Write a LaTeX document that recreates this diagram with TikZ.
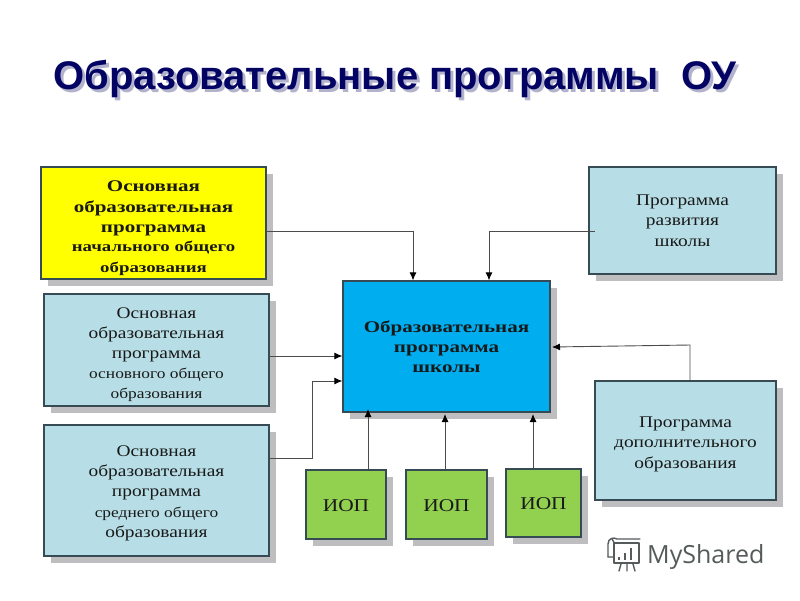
\documentclass[tikz,border=0pt]{standalone}
\usepackage{fontspec}
\setmainfont{Liberation Serif}[FakeStretch=1.19,BoldFeatures={FakeStretch=1.29}]
\newfontfamily\titlefont{Liberation Sans}
\newfontfamily\markfont{Open Sans}
\usetikzlibrary{shadows,arrows.meta}
\definecolor{navytitle}{RGB}{3,3,100}
\definecolor{titleshade}{RGB}{178,178,205}
\definecolor{boxline}{RGB}{55,75,85}
\definecolor{paleblue}{RGB}{183,222,230}
\definecolor{midblue}{RGB}{0,174,239}
\definecolor{leaf}{RGB}{146,208,80}
\definecolor{purey}{RGB}{255,255,0}
\definecolor{shadowgrey}{RGB}{190,190,193}
\definecolor{marktone}{RGB}{85,90,90}
\definecolor{textdark}{RGB}{25,25,25}
\newcommand{\bigsz}{\fontsize{16.3}{20.3}\selectfont}
\newcommand{\smallsz}{\fontsize{14.6}{17.8}\selectfont}
\newcommand{\topgap}[1]{\rule{0pt}{#1pt}}
\tikzset{
  boxnode/.style={draw=boxline,line width=1.3pt,inner sep=0pt,align=center,text=textdark,
    drop shadow={shadow xshift=6.5pt,shadow yshift=-6.5pt,fill=shadowgrey,opacity=1}},
  conn/.style={draw=black!70,line width=.9pt,-{Latex[length=8pt,width=7pt,color=black]}},
  logo/.style={draw=marktone,line width=1.4pt,line cap=round,line join=round},
  ioptext/.style={font=\fontsize{18}{22}\selectfont},
  titletext/.style={font=\titlefont\bfseries\fontsize{40}{44}\selectfont,anchor=base west,inner sep=0pt}
}
\begin{document}
\begin{tikzpicture}[x=1pt,y=-1pt]
\useasboundingbox[fill=white] (0,0) rectangle (800,600);
% title
\node[titletext,text=titleshade] at (56,92) {Образовательные программы\ \ ОУ};
\node (title) [titletext,text=navytitle] at (53,89) {Образовательные программы\ \ ОУ};
% boxes
\node (prim) [boxnode,fill=purey,minimum width=225pt,minimum height=112pt,font=\bigsz\bfseries] at (153.5,223)
  {\topgap{21}Основная\\образовательная\\программа\\[-1pt]\smallsz\bfseries начального общего\\\smallsz\bfseries образования};
\node (basic) [boxnode,fill=paleblue,minimum width=225pt,minimum height=112pt,font=\bigsz] at (156.5,350)
  {\topgap{20}Основная\\образовательная\\программа\\[-1pt]\smallsz основного общего\\\smallsz образования};
\node (sec) [boxnode,fill=paleblue,minimum width=225pt,minimum height=131pt,font=\bigsz] at (156.5,490.5)
  {\topgap{16}Основная\\образовательная\\программа\\\smallsz среднего общего\\\bigsz образования};
\node (dev) [boxnode,fill=paleblue,minimum width=187pt,minimum height=107pt,font=\bigsz] at (682.5,220.5)
  {Программа\\развития\\школы};
\node (school) [boxnode,fill=midblue,minimum width=207pt,minimum height=131pt,font=\bigsz\bfseries] at (446.5,346.5)
  {\topgap{12}Образовательная\\программа\\школы};
\node (extra) [boxnode,fill=paleblue,minimum width=181pt,minimum height=119pt,font=\bigsz] at (685.5,440.5)
  {\topgap{18}Программа\\дополнительного\\образования};
\node (iopa) [boxnode,fill=leaf,minimum width=80pt,minimum height=69pt,ioptext] at (346,504.5) {\topgap{14}ИОП};
\node (iopb) [boxnode,fill=leaf,minimum width=81pt,minimum height=69pt,ioptext] at (446.5,504.5) {\topgap{14}ИОП};
\node (iopc) [boxnode,fill=leaf,minimum width=75pt,minimum height=68pt,ioptext] at (543.5,503) {\topgap{14}ИОП};
% junction coordinates
\coordinate (j1) at (413,231);
\coordinate (j2) at (489,231);
\coordinate (j3) at (595,231);
\coordinate (j4) at (269,356);
\coordinate (j5) at (312,458);
\coordinate (j6) at (312,381);
\coordinate (j7) at (690,345);
\coordinate (j8) at (552,347);
\coordinate (j9) at (368,409);
\coordinate (j10) at (445,414);
\coordinate (j11) at (533,414);
% connectors
\draw[conn] (prim.east |- j1) -- (j1) -- (school.north -| j1);
\draw[conn] (j3) -- (j2) -- (school.north -| j2);
\draw[conn] (basic.east |- j4) -- (school.west |- j4);
\draw[conn] (sec.east |- j5) -- (j5) -- (j6) -- (school.west |- j6);
\draw[conn] (extra.north -| j7) -- (j7) -- (j8);
\draw[conn] (iopa.north -| j9) -- (j9);
\draw[conn] (iopb.north -| j10) -- (j10);
\draw[conn] (iopc.north -| j11) -- (j11);
% watermark
\node (mark) [text=marktone,font=\markfont\fontsize{25}{30}\selectfont,anchor=base west,inner sep=0pt] at (647,563) {MyShared};
\draw[logo] (614,543) rectangle (639,563);
\draw[logo] (608,557) -- (608,544) .. controls (608,538) and (614,537) .. (617,539) -- (640,539);
\draw[logo] (608,557) -- (614,557) (612,539) .. controls (614,541) and (614,543) .. (614,545);
\draw[logo] (621,564) -- (619,571) (627,564) -- (627,571) (633,564) -- (635,571);
\draw[logo,line width=2.4pt,line cap=butt] (619,560) -- (619,557) (625,560) -- (625,553) (631,560) -- (631,548);
\end{tikzpicture}
\end{document}
